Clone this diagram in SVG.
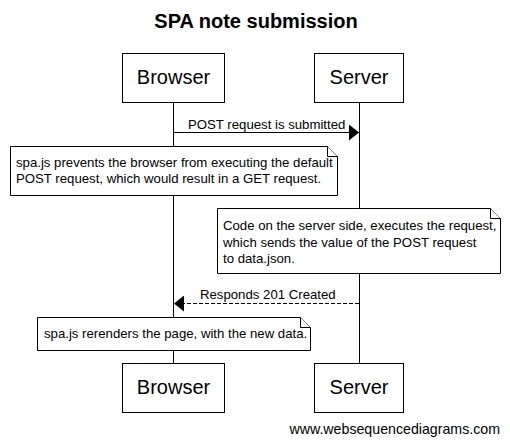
<svg xmlns="http://www.w3.org/2000/svg" width="510" height="447" viewBox="0 0 510 447">
<style>
text{font-family:"Liberation Sans",Arial,sans-serif;fill:#000}
.box{fill:#fff;stroke:#000;stroke-width:1}
.life{stroke:#000;stroke-width:1;fill:none}
.pl{font-size:20px;text-anchor:middle}
.t{font-size:13.2px}
.note{fill:#fff;stroke:#000;stroke-width:1}
.msg{stroke:#000;stroke-width:1;fill:none}
</style>
<defs>
<marker id="ah" markerWidth="10" markerHeight="16" refX="10" refY="8" orient="auto" markerUnits="userSpaceOnUse">
<path d="M0,0 L10,8 L0,16 Z" fill="#000"/>
</marker>
</defs>
<rect width="510" height="447" fill="#fff"/>
<text x="256" y="28" font-size="20" font-weight="bold" text-anchor="middle">SPA note submission</text>
<g id="lifelines">
<line class="life" x1="173.5" y1="102" x2="173.5" y2="363"/>
<line class="life" x1="359.5" y1="102" x2="359.5" y2="363"/>
</g>
<g id="browser-top"><rect class="box" x="122.5" y="53.5" width="102" height="49"/><text class="pl" x="173.5" y="84">Browser</text></g>
<g id="server-top"><rect class="box" x="314.5" y="53.5" width="89" height="49"/><text class="pl" x="359" y="84">Server</text></g>
<g id="browser-bottom"><rect class="box" x="122.5" y="363.5" width="102" height="49"/><text class="pl" x="173.5" y="394">Browser</text></g>
<g id="server-bottom"><rect class="box" x="314.5" y="363.5" width="89" height="49"/><text class="pl" x="359" y="394">Server</text></g>
<g id="connectors">
<line class="msg" x1="174" y1="132.5" x2="359" y2="132.5" marker-end="url(#ah)"/>
<text class="t" x="188" y="129">POST request is submitted</text>
<line class="msg" x1="359" y1="303.5" x2="174" y2="303.5" stroke-dasharray="4,2" marker-end="url(#ah)"/>
<text class="t" x="200" y="299">Responds 201 Created</text>
</g>
<g id="note1">
<path class="note" d="M10.5,146.5 H327.5 L337.5,156.5 V195.5 H10.5 Z"/>
<path class="note" d="M327.5,146.5 V156.5 H337.5"/>
<text class="t" x="16" y="167">spa.js prevents the browser from executing the default</text>
<text class="t" x="16" y="183">POST request, which would result in a GET request.</text>
</g>
<g id="note2">
<path class="note" d="M217.5,208.5 H490.5 L500.5,218.5 V273.5 H217.5 Z"/>
<path class="note" d="M490.5,208.5 V218.5 H500.5"/>
<text class="t" x="223" y="230">Code on the server side, executes the request,</text>
<text class="t" x="223" y="247">which sends the value of the POST request</text>
<text class="t" x="223" y="263">to data.json.</text>
</g>
<g id="note3">
<path class="note" d="M37.5,317.5 H300.5 L310.5,327.5 V350.5 H37.5 Z"/>
<path class="note" d="M300.5,317.5 V327.5 H310.5"/>
<text class="t" x="44" y="338">spa.js rerenders the page, with the new data.</text>
</g>
<text x="500" y="434" font-size="14.2" text-anchor="end">www.websequencediagrams.com</text>
</svg>
